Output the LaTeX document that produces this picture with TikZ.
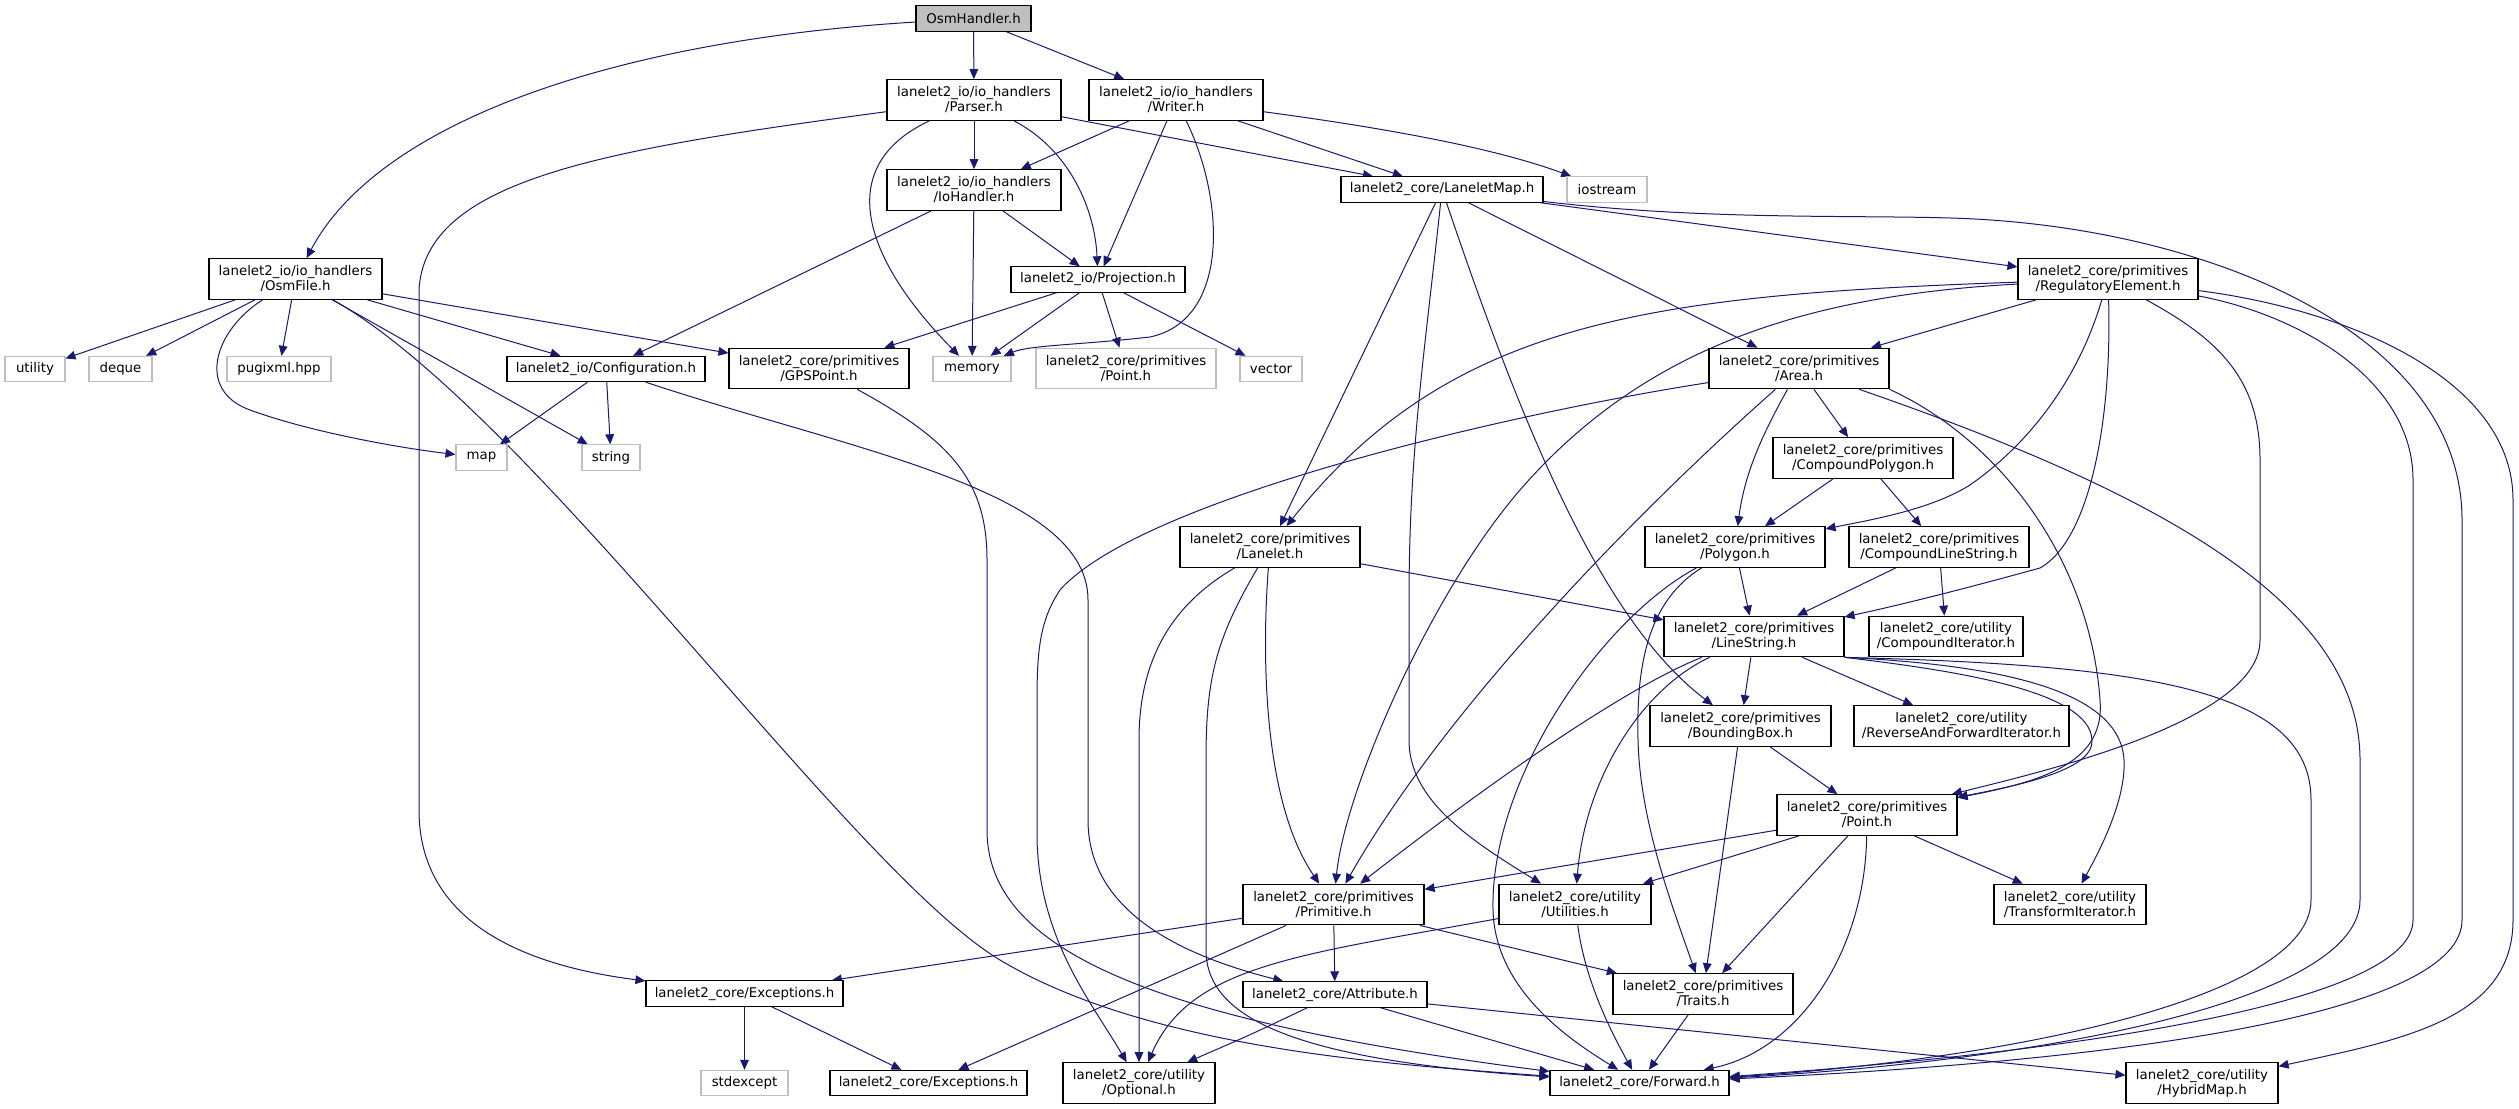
\documentclass[tikz,border=0pt]{standalone}
\usepackage{fontspec}
\setmainfont{DejaVu Sans}
\usetikzlibrary{arrows.meta}
\definecolor{edgec}{HTML}{191970}
\definecolor{extc}{HTML}{BFBFBF}
\pgfdeclarelayer{bg}
\pgfsetlayers{bg,main}
\begin{document}
\begin{tikzpicture}[x=0.75pt,y=-0.75pt,
  every node/.style={font=\fontsize{10pt}{11.25pt}\selectfont, align=center, inner sep=0pt, rectangle, text=black},
  doc/.style={draw=black, fill=white, line width=0.8pt},
  ext/.style={draw=extc, fill=white, line width=0.8pt},
  root/.style={draw=black, fill=extc, line width=0.8pt},
  h1/.style={minimum height=19pt},
  h2/.style={minimum height=30.5pt},
  dep/.style={draw=edgec, line width=0.75pt, -{Triangle[length=7.5pt,width=6.5pt]}},
]
\useasboundingbox (0,0) rectangle (2519,1109);

% nodes
\node[root,h1,minimum width=86.25pt] (osmh) at (973.5,18.5) {OsmHandler.h};
\node[doc,h2,minimum width=130.5pt] (parser) at (974,100) {lanelet2\_io/io\_handlers\\/Parser.h};
\node[doc,h2,minimum width=130.5pt] (writer) at (1176,100) {lanelet2\_io/io\_handlers\\/Writer.h};
\node[doc,h2,minimum width=130.5pt] (iohandler) at (974,190) {lanelet2\_io/io\_handlers\\/IoHandler.h};
\node[doc,h1,minimum width=130.5pt] (projection) at (1098,279.5) {lanelet2\_io/Projection.h};
\node[doc,h1,minimum width=151.5pt] (laneletmap) at (1442,189.5) {lanelet2\_core/LaneletMap.h};
\node[ext,h1,minimum width=60pt] (iostream) at (1607,189.5) {iostream};
\node[doc,h2,minimum width=129.75pt] (osmfile) at (295.5,279) {lanelet2\_io/io\_handlers\\/OsmFile.h};
\node[doc,h2,minimum width=135pt] (regel) at (2108,279) {lanelet2\_core/primitives\\/RegulatoryElement.h};
\node[ext,h1,minimum width=45pt] (utility) at (35,369) {utility};
\node[ext,h1,minimum width=47.25pt] (deque) at (120.5,369) {deque};
\node[ext,h1,minimum width=78pt] (pugixml) at (279,369) {pugixml.hpp};
\node[doc,h1,minimum width=148.5pt] (config) at (606,369) {lanelet2\_io/Configuration.h};
\node[doc,h2,minimum width=135pt] (gpspoint) at (819,368.5) {lanelet2\_core/primitives\\/GPSPoint.h};
\node[ext,h1,minimum width=58.5pt] (memory) at (972,369) {memory};
\node[ext,h2,minimum width=135pt] (pointg) at (1126,368.5) {lanelet2\_core/primitives\\/Point.h};
\node[ext,h1,minimum width=46.5pt] (vector) at (1271,369) {vector};
\node[doc,h2,minimum width=135pt] (area) at (1799,368.5) {lanelet2\_core/primitives\\/Area.h};
\node[ext,h1,minimum width=38.25pt] (map) at (481.5,457.5) {map};
\node[ext,h1,minimum width=43.5pt] (string) at (611,457.5) {string};
\node[doc,h2,minimum width=135pt] (cpoly) at (1863,458) {lanelet2\_core/primitives\\/CompoundPolygon.h};
\node[doc,h2,minimum width=135pt] (lanelet) at (1270,547) {lanelet2\_core/primitives\\/Lanelet.h};
\node[doc,h2,minimum width=135pt] (polygon) at (1735,547) {lanelet2\_core/primitives\\/Polygon.h};
\node[doc,h2,minimum width=135pt] (cls) at (1939,547) {lanelet2\_core/primitives\\/CompoundLineString.h};
\node[doc,h2,minimum width=135pt] (linestring) at (1754,636.5) {lanelet2\_core/primitives\\/LineString.h};
\node[doc,h2,minimum width=115.5pt] (compiter) at (1946,636.5) {lanelet2\_core/utility\\/CompoundIterator.h};
\node[doc,h2,minimum width=135.75pt] (bbox) at (1740.5,726) {lanelet2\_core/primitives\\/BoundingBox.h};
\node[doc,h2,minimum width=161.25pt] (rafi) at (1961.5,726) {lanelet2\_core/utility\\/ReverseAndForwardIterator.h};
\node[doc,h2,minimum width=135pt] (point) at (1867,815) {lanelet2\_core/primitives\\/Point.h};
\node[doc,h2,minimum width=135.75pt] (primitive) at (1333.5,904.5) {lanelet2\_core/primitives\\/Primitive.h};
\node[doc,h2,minimum width=114pt] (utilities) at (1575,904.5) {lanelet2\_core/utility\\/Utilities.h};
\node[doc,h2,minimum width=114pt] (transform) at (2070,904.5) {lanelet2\_core/utility\\/TransformIterator.h};
\node[doc,h1,minimum width=147.75pt] (exc1) at (744.5,993.5) {lanelet2\_core/Exceptions.h};
\node[doc,h1,minimum width=138pt] (attribute) at (1335,994.5) {lanelet2\_core/Attribute.h};
\node[doc,h2,minimum width=135pt] (traits) at (1703,994) {lanelet2\_core/primitives\\/Traits.h};
\node[ext,h1,minimum width=65.25pt] (stdexcept) at (744.5,1083) {stdexcept};
\node[doc,h1,minimum width=147.75pt] (exc2) at (928.5,1083) {lanelet2\_core/Exceptions.h};
\node[doc,h2,minimum width=114pt] (optional) at (1139,1083) {lanelet2\_core/utility\\/Optional.h};
\node[doc,h1,minimum width=134.25pt] (forward) at (1639.5,1083) {lanelet2\_core/Forward.h};
\node[doc,h2,minimum width=114pt] (hybridmap) at (2202,1083) {lanelet2\_core/utility\\/HybridMap.h};

\begin{pgfonlayer}{bg}
% OsmHandler
\draw[dep] (osmh) .. controls (620,40) and (380,120) .. (osmfile);
\draw[dep] (osmh) -- (parser);
\draw[dep] (osmh) -- (writer);
% Parser
\draw[dep] (parser) -- (iohandler);
\draw[dep] (parser) .. controls (1070,150) and (1095,210) .. (projection);
\draw[dep] (parser) .. controls (835,165) and (860,255) .. (memory);
\draw[dep] (parser) -- (laneletmap);
\draw[dep] (parser) .. controls (600,150) and (425,180) .. (419,290) -- (419,810) .. controls (419,920) and (520,965) .. (exc1);
% Writer
\draw[dep] (writer) -- (iohandler);
\draw[dep] (writer) -- (projection);
\draw[dep] (writer) .. controls (1225,200) and (1230,320) .. (1150,337) .. controls (1080,345) and (1030,345) .. (memory);
\draw[dep] (writer) -- (laneletmap);
\draw[dep] (writer) .. controls (1400,130) and (1500,150) .. (iostream);
% IoHandler
\draw[dep] (iohandler) -- (config);
\draw[dep] (iohandler) -- (memory);
\draw[dep] (iohandler) -- (projection);
% Projection
\draw[dep] (projection) -- (gpspoint);
\draw[dep] (projection) -- (memory);
\draw[dep] (projection) -- (pointg);
\draw[dep] (projection) -- (vector);
% OsmFile
\draw[dep] (osmfile) -- (utility);
\draw[dep] (osmfile) -- (deque);
\draw[dep] (osmfile) .. controls (215,330) and (195,390) .. (250,410) .. controls (310,432) and (400,448) .. (map);
\draw[dep] (osmfile) -- (pugixml);
\draw[dep] (osmfile) -- (string);
\draw[dep] (osmfile) .. controls (530,410) and (850,870) .. (1000,960) .. controls (1150,1050) and (1400,1065) .. (forward);
\draw[dep] (osmfile) -- (config);
\draw[dep] (osmfile) -- (gpspoint);
% Configuration
\draw[dep] (config) -- (map);
\draw[dep] (config) -- (string);
\draw[dep] (config) .. controls (850,450) and (1088,490) .. (1088,600) -- (1088,820) .. controls (1088,920) and (1200,960) .. (attribute);
% GPSPoint
\draw[dep] (gpspoint) .. controls (950,440) and (987,480) .. (987,560) -- (987,830) .. controls (987,950) and (1150,1020) .. (forward);
% LaneletMap
\draw[dep] (laneletmap) -- (lanelet);
\draw[dep] (laneletmap) .. controls (1425,350) and (1409,450) .. (1409,600) -- (1409,740) .. controls (1409,800) and (1470,840) .. (utilities);
\draw[dep] (laneletmap) .. controls (1520,420) and (1600,620) .. (bbox);
\draw[dep] (laneletmap) -- (area);
\draw[dep] (laneletmap) -- (regel);
\draw[dep] (laneletmap) .. controls (1700,220) and (1850,215) .. (1950,218) .. controls (2200,225) and (2462,330) .. (2462,520) -- (2462,920) .. controls (2462,1010) and (2150,1060) .. (forward);
% RegulatoryElement
\draw[dep] (regel) -- (area);
\draw[dep] (regel) .. controls (1650,295) and (1450,320) .. (lanelet);
\draw[dep] (regel) .. controls (2075,390) and (2020,450) .. (1970,485) .. controls (1930,510) and (1870,520) .. (polygon);
\draw[dep] (regel) .. controls (2112,420) and (2090,540) .. (2040,568) .. controls (1960,590) and (1900,605) .. (linestring);
\draw[dep] (regel) .. controls (1820,295) and (1650,340) .. (1520,490) .. controls (1430,594) and (1345,790) .. (primitive);
\draw[dep] (regel) .. controls (2220,340) and (2260,380) .. (2260,460) -- (2260,640) .. controls (2260,720) and (2050,770) .. (point);
\draw[dep] (regel) .. controls (2300,315) and (2413,380) .. (2413,480) -- (2413,920) .. controls (2413,1000) and (2100,1050) .. (forward);
\draw[dep] (regel) .. controls (2350,310) and (2513,380) .. (2513,500) -- (2513,920) .. controls (2513,1020) and (2400,1040) .. (hybridmap);
% Area
\draw[dep] (area) -- (cpoly);
\draw[dep] (area) .. controls (1765,430) and (1745,470) .. (polygon);
\draw[dep] (area) .. controls (1650,500) and (1450,700) .. (primitive);
\draw[dep] (area) .. controls (1500,415) and (1140,500) .. (1060,590) .. controls (1040,620) and (1037,650) .. (1037,700) -- (1037,840) .. controls (1040,940) and (1090,1000) .. (optional);
\draw[dep] (area.south east) .. controls (2000,440) and (2090,560) .. (2100,700) .. controls (2105,760) and (2050,780) .. (point);
\draw[dep] (area) .. controls (2150,490) and (2360,600) .. (2360,760) -- (2360,900) .. controls (2360,1000) and (2050,1060) .. (forward);
% Polygon
\draw[dep] (polygon) -- (linestring);
\draw[dep] (polygon) .. controls (1600,620) and (1490,780) .. (1493,910) .. controls (1495,990) and (1570,1040) .. (forward);
\draw[dep] (polygon) .. controls (1650,600) and (1636,660) .. (1638,740) .. controls (1640,820) and (1670,900) .. (traits);
% CompoundPolygon, CompoundLineString
\draw[dep] (cpoly) -- (polygon);
\draw[dep] (cpoly) -- (cls);
\draw[dep] (cls) -- (linestring);
\draw[dep] (cls) -- (compiter);
% Lanelet
\draw[dep] (lanelet) -- (linestring);
\draw[dep] (lanelet) .. controls (1262,650) and (1262,800) .. (primitive);
\draw[dep] (lanelet) .. controls (1180,600) and (1139,650) .. (1139,740) -- (optional);
\draw[dep] (lanelet) .. controls (1215,640) and (1206,680) .. (1206,760) -- (1206,950) .. controls (1206,1020) and (1300,1060) .. (forward);
% LineString
\draw[dep] (linestring) -- (bbox);
\draw[dep] (linestring) -- (rafi);
\draw[dep] (linestring) .. controls (1620,690) and (1480,790) .. (primitive);
\draw[dep] (linestring) .. controls (1640,690) and (1585,780) .. (utilities);
\draw[dep] (linestring.south east) .. controls (1950,670) and (2090,690) .. (2092,740) .. controls (2094,770) and (2020,785) .. (point);
\draw[dep] (linestring.south east) .. controls (2000,665) and (2120,690) .. (2124,760) .. controls (2126,800) and (2100,850) .. (transform);
\draw[dep] (linestring.south east) .. controls (2150,665) and (2311,690) .. (2311,800) -- (2311,900) .. controls (2311,1000) and (2000,1060) .. (forward);
% BoundingBox
\draw[dep] (bbox) -- (traits);
\draw[dep] (bbox) -- (point);
% Point
\draw[dep] (point) -- (primitive);
\draw[dep] (point) -- (utilities);
\draw[dep] (point) -- (traits);
\draw[dep] (point) .. controls (1865,950) and (1800,1050) .. (forward);
\draw[dep] (point) -- (transform);
% Primitive
\draw[dep] (primitive) -- (exc1);
\draw[dep] (primitive) -- (exc2);
\draw[dep] (primitive) -- (attribute);
\draw[dep] (primitive) -- (traits);
% Utilities
\draw[dep] (utilities) .. controls (1300,955) and (1190,965) .. (optional);
\draw[dep] (utilities) .. controls (1585,980) and (1610,1030) .. (forward);
% Traits
\draw[dep] (traits) -- (forward);
% Attribute
\draw[dep] (attribute) .. controls (1250,1035) .. (optional);
\draw[dep] (attribute) -- (forward);
\draw[dep] (attribute) -- (hybridmap);
% Exceptions
\draw[dep] (exc1) -- (stdexcept);
\draw[dep] (exc1) -- (exc2);
\end{pgfonlayer}
\end{tikzpicture}
\end{document}
